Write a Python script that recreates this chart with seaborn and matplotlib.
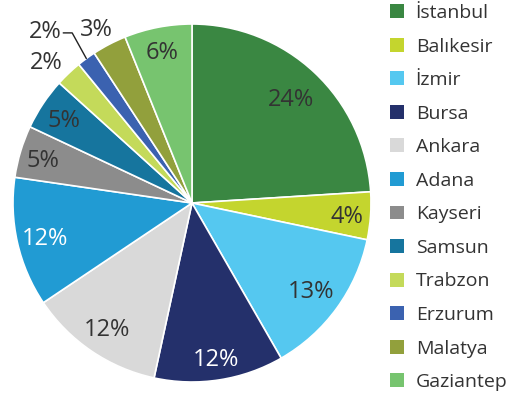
import numpy as np
import matplotlib.pyplot as plt
import seaborn as sns
from matplotlib.patches import Patch

# share of total (clockwise from 12 o'clock)
cities = ["İstanbul", "Balıkesir", "İzmir", "Bursa", "Ankara", "Adana",
          "Kayseri", "Samsun", "Trabzon", "Erzurum", "Malatya", "Gaziantep"]
shares = [24.0, 4.3, 13.4, 11.7, 12.2, 11.7, 4.7, 4.7, 2.4, 1.7, 3.1, 6.1]

colors = ["#3a8742", "#c4d52e", "#55c8f0", "#24306b", "#d9d9d9", "#219bd3",
          "#8c8c8c", "#16759e", "#c4da5a", "#3b62b0", "#92a03c", "#77c46f"]

# label radius (in pie radii) and small angle nudge per slice
label_r = [0.81, 0.87, 0.82, 0.87, 0.84, 0.84, 0.87, 0.86, 1.14, 1.27, 1.12, 0.87]
label_dt = [0, 0, 0, 0, 0, 0, 0, 0, 2, 4, 1, 0]
white_labels = {"Bursa", "Adana"}

sns.set_theme(style="white")
plt.rcParams["font.family"] = ["Open Sans", "DejaVu Sans"]

fig = plt.figure(figsize=(5.17, 4.04), dpi=100)
ax = fig.add_axes([13 / 517, 22 / 404, 358 / 517, 358 / 404])

wedges, texts, autotexts = ax.pie(
    shares,
    colors=colors,
    startangle=90,
    counterclock=False,
    autopct="%.0f%%",
    wedgeprops=dict(edgecolor="white", linewidth=1.2),
    textprops=dict(fontsize=17, color="#333333"),
)
ax.set_xlim(-1, 1)
ax.set_ylim(-1, 1)
ax.set_aspect("equal")

for w, t, name, r, dt in zip(wedges, autotexts, cities, label_r, label_dt):
    mid = np.deg2rad((w.theta1 + w.theta2) / 2 + dt)
    t.set_position((r * np.cos(mid), r * np.sin(mid)))
    t.set_ha("center")
    t.set_va("center_baseline")
    if name in white_labels:
        t.set_color("white")

# leader line for Erzurum
w = wedges[cities.index("Erzurum")]
mid = np.deg2rad((w.theta1 + w.theta2) / 2)
tx, ty = autotexts[cities.index("Erzurum")].get_position()
ax.plot([np.cos(mid), tx + 0.15, tx + 0.1], [np.sin(mid), ty - 0.02, ty - 0.02],
        color="#222222", lw=1, clip_on=False)

handles = [Patch(facecolor=c, edgecolor="none") for c in colors]
fig.legend(handles, cities, loc="upper left", bbox_to_anchor=(390 / 517, 1 - 4 / 404),
           frameon=False, fontsize=14, handlelength=0.72, handleheight=0.72,
           handletextpad=0.6, labelspacing=0.8, borderpad=0, borderaxespad=0,
           labelcolor="#333333")

fig.savefig("out.png", dpi=100)
